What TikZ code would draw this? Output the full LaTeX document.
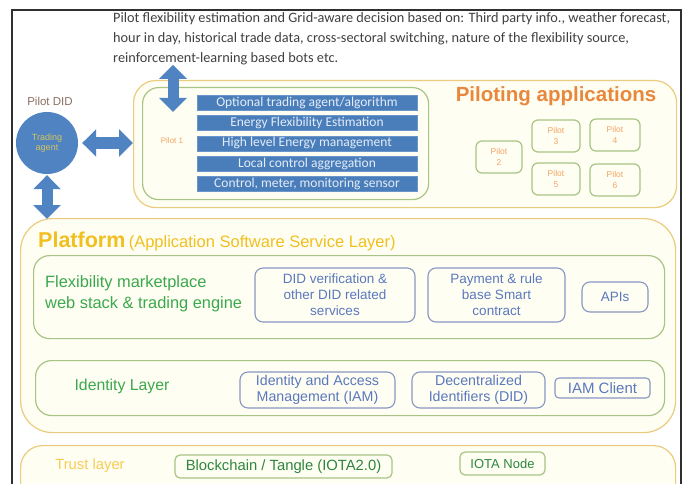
\documentclass[tikz,border=0pt]{standalone}
\usepackage{fontspec}
\setmainfont{Liberation Sans}
\newfontfamily\calibri{Carlito}
\usepackage{xcolor}
\usetikzlibrary{arrows.meta,positioning}
\definecolor{framegray}{HTML}{303030}
\definecolor{infotext}{HTML}{404040}
\definecolor{barblue}{HTML}{4A7EBB}
\definecolor{barline}{HTML}{6A96CC}
\definecolor{bartext}{HTML}{E4ECF7}
\definecolor{arrblue}{HTML}{4F83C2}
\definecolor{layerline}{HTML}{EBCB7E}
\definecolor{layerfill}{HTML}{FFFEF3}
\definecolor{grpgreen}{HTML}{A8C484}
\definecolor{grntext}{HTML}{3AA84C}
\definecolor{svcline}{HTML}{8797C2}
\definecolor{svctext}{HTML}{5A78BE}
\definecolor{apporange}{HTML}{E9883C}
\definecolor{pilottext}{HTML}{F2A463}
\definecolor{gold}{HTML}{F0C020}
\definecolor{trustyellow}{HTML}{F8CC55}
\definecolor{didbrown}{HTML}{8A6E62}
\definecolor{agenttext}{HTML}{D6C45C}

\begin{document}
\begin{tikzpicture}[
  x=1pt, y=-1pt,
  every node/.style={inner sep=0pt},
  layer/.style={draw=layerline, fill=layerfill, line width=1.2pt,
    rounded corners=22pt, anchor=north west},
  group/.style={draw=grpgreen, line width=1.2pt, rounded corners=16pt,
    anchor=north west},
  bar/.style={fill=barblue, draw=barline, minimum width=220pt,
    minimum height=15pt, text=bartext, font=\calibri\fontsize{13.5}{13.5}\selectfont},
  pilotbox/.style={draw=grpgreen, line width=1.2pt, rounded corners=6pt,
    align=center, text=pilottext, font=\fontsize{8.5}{11}\selectfont,
    minimum width=48pt, minimum height=32pt},
  svc/.style={draw=svcline, line width=1.1pt, rounded corners=8pt,
    align=center, text=svctext, font=\fontsize{13.5}{16}\selectfont},
  chainbox/.style={draw=grpgreen, line width=1.2pt, rounded corners=5pt,
    text=grntext!80!black, font=\fontsize{13}{13}\selectfont},
  dbl/.style={draw=arrblue, line width=11pt,
    {Triangle[width=27pt,length=14pt]}-{Triangle[width=27pt,length=14pt]}}
]
\useasboundingbox (0,0) rectangle (685,484);
\clip (0,0) rectangle (685,484);

% ── Outer frame ─────────────────────────────────────────────────────────────
\draw[line width=1.8pt, framegray] (12,495) -- (12,10) -- (681,10) -- (681,495);

% ── Decision inputs ────────────────────────────────────────────────────────
\node[anchor=north west, align=left, text=infotext,
  font=\calibri\fontsize{14.3}{20}\selectfont] (info) at (113,12)
  {Pilot flexibility estimation and Grid-aware decision based on: Third party info., weather forecast,\\
   hour in day, historical trade data, cross-sectoral switching, nature of the flexibility\ source,\\
   reinforcement-learning based bots etc.};

% ── Piloting applications ─────────────────────────────────────────────────
\node[layer, minimum width=543pt, minimum height=127pt] (piloting) at (133,80) {};
\node[group, minimum width=286pt, minimum height=112pt] (pilotone) at (142,87) {};
\node[bar] (optagent) at (307,102.5) {Optional trading agent/algorithm};
\node[bar, below=5pt of optagent] (flexest) {Energy Flexibility Estimation};
\node[bar, below=5pt of flexest] (hlem) {High level Energy management};
\node[bar, below=5pt of hlem] (lca) {Local control aggregation};
\node[bar, below=5pt of lca] (sensor) {Control, meter, monitoring sensor};
\node[text=pilottext, font=\fontsize{8}{8}\selectfont] (pilotonelbl) at (172,141) {Pilot 1};

\node[text=apporange, font=\bfseries\fontsize{20.5}{20.5}\selectfont] (apptitle)
  at (556,96) {Piloting applications};
\node[pilotbox, minimum width=46pt] (pilottwo) at (499,157) {Pilot\\2};
\node[pilotbox] (pilotthree) at (556,136) {Pilot\\3};
\node[pilotbox, minimum width=50pt] (pilotfour) at (615,135) {Pilot\\4};
\node[pilotbox] (pilotfive) at (556,179) {Pilot\\5};
\node[pilotbox, minimum width=50pt] (pilotsix) at (615,180) {Pilot\\6};

% ── Pilot DID and trading agent ───────────────────────────────────────────
\node[text=didbrown, font=\fontsize{11.5}{11.5}\selectfont] (pilotdid) at (50,101) {Pilot DID};
\node[circle, fill=arrblue, minimum size=62pt, align=center, text=agenttext,
  font=\fontsize{9}{10}\selectfont] (agent) at (47,143) {Trading\\agent};

% ── Platform ─────────────────────────────────────────────────────────────
\node[layer, rounded corners=32pt, minimum width=655pt, minimum height=214pt] (platform)
  at (20,218) {};
\node[anchor=base west, text=gold, font=\bfseries\fontsize{21.5}{21.5}\selectfont] (plattitle)
  at (38,247) {Platform};
\node[anchor=base west, text=gold, font=\fontsize{16.5}{16.5}\selectfont] (platsub)
  at ([xshift=3pt]plattitle.base east) {(Application Software Service Layer)};

\node[group, minimum width=631pt, minimum height=83pt] (market) at (33,255) {};
\node[anchor=west, align=left, text=grntext, font=\fontsize{16.4}{21}\selectfont] (marketlbl)
  at (45,294) {Flexibility marketplace\\web stack \& trading engine};
\node[svc, minimum width=160pt, minimum height=54pt] (didsvc) at (335,295)
  {DID verification \&\\other DID related\\services};
\node[svc, minimum width=137pt, minimum height=54pt] (payment) at (496.5,295)
  {Payment \& rule\\base Smart\\contract};
\node[svc, minimum width=66pt, minimum height=30pt] (apis) at (615,297) {APIs};

\node[group, minimum width=629pt, minimum height=55pt] (identity) at (35,360) {};
\node[text=grntext, font=\fontsize{15.8}{15.8}\selectfont] (identitylbl) at (122,386) {Identity Layer};
\node[svc, minimum width=155pt, minimum height=36pt, font=\fontsize{14.2}{16}\selectfont] (iam)
  at (317.5,390) {Identity and Access\\Management (IAM)};
\node[svc, minimum width=133pt, minimum height=36pt, font=\fontsize{14.2}{16}\selectfont] (didbox)
  at (478.5,390) {Decentralized\\Identifiers (DID)};
\node[svc, rounded corners=4pt, minimum width=95pt, minimum height=20pt,
  font=\fontsize{15}{15}\selectfont] (iamclient) at (602.5,388) {IAM Client};

% ── Trust layer ──────────────────────────────────────────────────────────
\node[layer, minimum width=655pt, minimum height=80pt] (trust) at (20,445) {};
\node[text=trustyellow, font=\fontsize{14.8}{14.8}\selectfont] (trustlbl) at (90,466) {Trust layer};
\node[chainbox, minimum width=217pt, minimum height=23pt, font=\fontsize{14.8}{14.8}\selectfont]
  (tangle) at (283.5,466.5) {Blockchain / Tangle (IOTA2.0)};
\node[chainbox, minimum width=85pt, minimum height=23pt] (iotanode) at (502.5,463.5)
  {IOTA Node};

% ── Data exchange arrows ─────────────────────────────────────────────────
\coordinate (agentin) at (173,112);
\draw[dbl] (info.south -| agentin) -- (agentin);
\draw[dbl] ([xshift=4pt]agent.east) -- (agent.east -| piloting.west);
\draw[dbl] ([yshift=-1pt]agent.south) -- ([yshift=-1pt]agent.south |- platform.north);

\end{tikzpicture}
\end{document}
